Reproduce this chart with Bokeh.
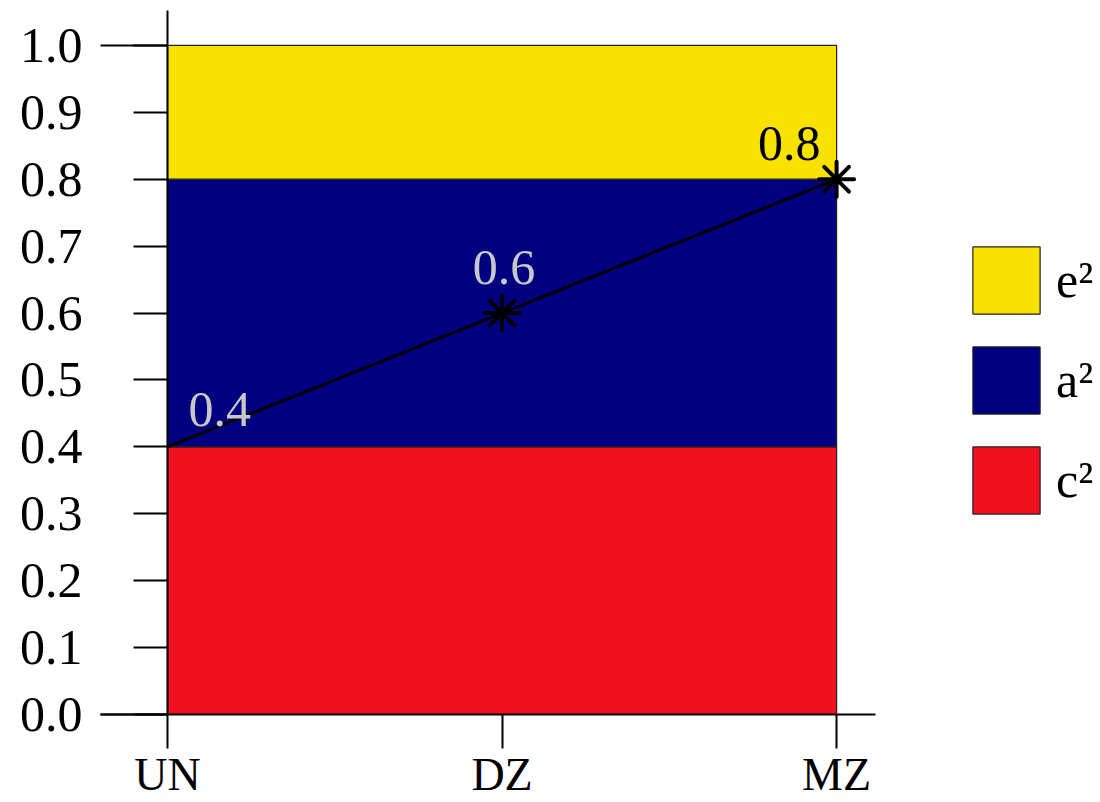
import numpy as np
from bokeh.plotting import figure
from bokeh.models import (LinearAxis, FixedTicker, Range1d, Legend, LegendItem,
                          PrintfTickFormatter)
from bokeh.core.properties import value
from bokeh.embed import file_html
from bokeh.resources import INLINE

# Twin groups and their position along the relatedness axis
groups = ["UN", "DZ", "MZ"]
group_pos = [0.0, 0.5, 1.0]

# Variance components (stacked bottom to top)
c2 = [0.4, 0.4, 0.4]
a2 = [0.4, 0.4, 0.4]
e2 = [0.2, 0.2, 0.2]

# Expected twin correlation per group
twin_r = [0.4, 0.6, 0.8]

y_ticks = [0.0, 0.1, 0.2, 0.3, 0.4, 0.5, 0.6, 0.7, 0.8, 0.9, 1.0]

FONT = "Liberation Serif"
RED = "#F0111F"
NAVY = "#000080"
YELLOW = "#F9E200"

W, H = 1100, 802
PX_PER_UNIT = 669.1
X0_PX, Y0_PX = 167, 714   # where the axes cross

# The frame covers the whole canvas so nothing drawn around the axes is clipped
x_range = Range1d(-X0_PX / PX_PER_UNIT, (W - X0_PX) / PX_PER_UNIT)
y_range = Range1d(-(H - Y0_PX) / PX_PER_UNIT, Y0_PX / PX_PER_UNIT)

p = figure(width=W, height=H, x_range=x_range, y_range=y_range,
           x_axis_type=None, y_axis_type=None,
           output_backend="svg", toolbar_location=None,
           min_border=0)
p.outline_line_color = None
p.background_fill_color = "white"
p.border_fill_color = "white"

# Stacked bands drawn as closed polygons
x = np.array(group_pos)
bottom = np.zeros(len(x))
layers = {}
for name, vals, color in [("c²", c2, RED), ("a²", a2, NAVY), ("e²", e2, YELLOW)]:
    top = bottom + np.array(vals)
    xs = np.concatenate([x, x[::-1]])
    ys = np.concatenate([top, bottom[::-1]])
    layers[name] = p.patch(xs, ys, fill_color=color, line_color="#202020",
                           line_width=1.2)
    bottom = top

# Expected correlation line with markers and value labels
p.line(group_pos, twin_r, line_color="black", line_width=3)
p.scatter(group_pos[1:], twin_r[1:], marker="asterisk", size=35,
          line_color="black", line_width=4, line_cap="round")

label_colors = ["#C8C8C8", "#C8C8C8", "black"]
label_align = ["left", "center", "right"]
label_dx = [21, 2, -16]
label_dy = [-37, -46, -36]
p.text(x=group_pos, y=twin_r, text=[f"{v:.1f}" for v in twin_r],
       text_font=value(FONT), text_font_size="50px",
       text_color=label_colors, text_align=label_align,
       text_baseline="alphabetic", x_offset=label_dx, y_offset=label_dy)

# Axes crossing at the origin
xaxis = LinearAxis(ticker=FixedTicker(ticks=group_pos),
                   major_label_overrides={pos: g for pos, g in zip(group_pos, groups)},
                   fixed_location=0.0, bounds=(-0.1, 1.058))
yaxis = LinearAxis(ticker=FixedTicker(ticks=y_ticks),
                   formatter=PrintfTickFormatter(format="%.1f"),
                   fixed_location=0.0, bounds=(0.0, 1.052))
for ax in (xaxis, yaxis):
    ax.axis_line_width = 2
    ax.axis_line_color = "black"
    ax.major_tick_line_width = 2
    ax.major_tick_line_color = "black"
    ax.major_tick_in = 0
    ax.major_tick_out = 34
    ax.minor_tick_in = 0
    ax.minor_tick_out = 0
    ax.major_label_text_font = FONT
    ax.major_label_text_color = "black"
yaxis.major_label_text_font_size = "50px"
yaxis.major_label_standoff = 51
xaxis.major_label_text_font_size = "46px"
xaxis.major_label_standoff = 0

# Longer end ticks at 0 and 1
ends = LinearAxis(ticker=FixedTicker(ticks=[0.0, 1.0]), fixed_location=0.0,
                  bounds=(0.0, 1.0),
                  axis_line_color=None, major_tick_in=0, major_tick_out=67,
                  major_tick_line_width=2, major_tick_line_color="black",
                  minor_tick_in=0, minor_tick_out=0,
                  major_label_text_alpha=0, major_label_text_font_size="1px")
p.add_layout(ends, "left")
p.add_layout(yaxis, "left")
p.add_layout(xaxis, "below")

legend = Legend(items=[LegendItem(label="e²", renderers=[layers["e²"]]),
                       LegendItem(label="a²", renderers=[layers["a²"]]),
                       LegendItem(label="c²", renderers=[layers["c²"]])],
                location=(964, 280), glyph_width=84, glyph_height=84,
                spacing=16, label_standoff=8, padding=0, margin=0,
                border_line_color=None, background_fill_alpha=0,
                label_text_font=FONT, label_text_font_size="50px",
                label_text_color="black")
p.add_layout(legend, "center")

open("out.html", "w").write(file_html(p, INLINE))
